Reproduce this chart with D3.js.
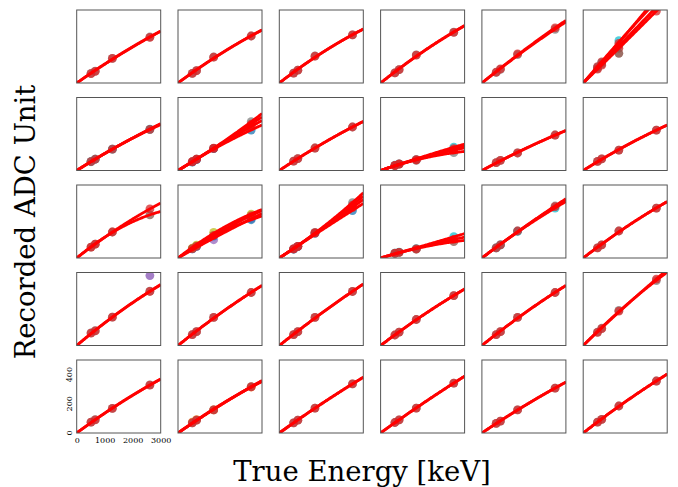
<!DOCTYPE html>
<html>
<head>
<meta charset="utf-8">
<script src="https://cdn.jsdelivr.net/npm/d3@7"></script>
<style>
  html, body { margin: 0; padding: 0; background: #fff; }
  svg { display: block; }
</style>
</head>
<body>
<svg id="chart" width="678" height="487"></svg>
<script>
// ---------------- DATA ----------------
const energies = [511, 662, 1274, 2614];           // calibration peaks (keV)
const palette = ["#1f77b4","#ff7f0e","#2ca02c","#d62728","#9467bd",
                 "#8c564b","#e377c2","#7f7f7f","#bcbd22","#17becf"];
const xTicks = [0, 1000, 2000, 3000];
const yTicks = [0, 200, 400];
const xLabel = "True Energy [keV]";
const yLabel = "Recorded ADC Unit";

// each panel: list of runs [colorIndex, adc@511, adc@662, adc@1274, adc@2614]
const panelRuns = [
  // row 1
  [[7, 66, 82, 169, 315], [3, 64, 80, 168, 313]],
  [[7, 66, 85, 178, 322], [3, 66, 84, 177, 322]],
  [[7, 68, 88, 185, 329], [3, 68, 88, 184, 329]],
  [[7, 70, 92, 192, 349], [3, 70, 91, 191, 347]],
  [[7, 72, 94, 195, 368], [3, 74, 96, 199, 377]],
  [[9, 108, 140, 290, 560], [7, 100, 130, 255, 520], [3, 95, 122, 238, 493], [3, 112, 145, 272, 585]],
  // row 2
  [[7, 62, 78, 147, 280], [9, 60, 77, 146, 284], [3, 61, 77, 146, 282]],
  [[7, 60, 77, 152, 334], [0, 58, 75, 150, 277], [3, 60, 77, 152, 300], [3, 61, 78, 153, 318]],
  [[7, 64, 82, 154, 298], [3, 64, 82, 154, 298]],
  [[9, 36, 46, 75, 160], [7, 33, 43, 70, 122], [3, 34, 44, 72, 140], [3, 35, 45, 74, 150]],
  [[7, 54, 70, 120, 243], [3, 54, 70, 120, 243]],
  [[7, 62, 80, 140, 277], [3, 62, 80, 140, 277]],
  // row 3
  [[5, 75, 95, 178, 295], [3, 75, 95, 178, 336]],
  [[4, 62, 80, 125, 270], [0, 62, 80, 150, 262], [8, 68, 88, 176, 301], [3, 64, 82, 155, 290]],
  [[7, 62, 80, 176, 379], [0, 60, 78, 168, 325], [3, 62, 80, 170, 345], [3, 62, 80, 174, 362]],
  [[9, 33, 40, 64, 146], [5, 32, 39, 60, 112], [3, 33, 39, 62, 128]],
  [[7, 70, 90, 185, 356], [9, 70, 90, 183, 342], [3, 70, 90, 185, 352]],
  [[7, 70, 90, 185, 342], [3, 70, 90, 185, 342]],
  // row 4
  [[7, 86, 101, 194, 372], [3, 85, 100, 194, 370]],
  [[7, 75, 95, 192, 363], [3, 75, 95, 192, 363]],
  [[7, 75, 95, 192, 370], [3, 75, 95, 192, 370]],
  [[7, 72, 92, 178, 342], [3, 72, 92, 178, 342]],
  [[7, 75, 95, 192, 363], [3, 75, 95, 192, 363]],
  [[7, 92, 118, 240, 445], [3, 90, 115, 235, 455]],
  // row 5
  [[7, 75, 91, 169, 329], [3, 74, 90, 168, 328]],
  [[1, 75, 92, 158, 315], [7, 70, 88, 158, 318], [3, 70, 88, 158, 316]],
  [[7, 70, 88, 171, 336], [3, 70, 88, 171, 336]],
  [[7, 72, 90, 171, 342], [3, 72, 90, 171, 342]],
  [[7, 66, 82, 158, 308], [3, 66, 82, 158, 308]],
  [[7, 74, 94, 185, 356], [3, 74, 94, 185, 356]]
];

// unfitted stray points: [panelIndex, colorIndex, energy, adc]
const outliers = [
  [5, 5, 1274, 203],
  [18, 4, 2614, 479]
];

// ---------------- LAYOUT ----------------
const nRows = 5, nCols = 6;
const left0 = 76.7, colStep = 101.3, pw = 84;
const top0 = 10, rowStep = 87.5, ph = 73;

const x = d3.scaleLinear().domain([0, 3000]).range([0, pw]);
const y = d3.scaleLinear().domain([0, 500]).range([ph, 0]);

function fitQuadOrigin(vals) {
  // least squares y = a*e + b*e^2, e in thousands keV
  let s2 = 0, s3 = 0, s4 = 0, sy1 = 0, sy2 = 0;
  energies.forEach((E, i) => {
    const e = E / 1000, v = vals[i];
    s2 += e * e; s3 += e * e * e; s4 += e * e * e * e;
    sy1 += e * v; sy2 += e * e * v;
  });
  const det = s2 * s4 - s3 * s3;
  const a = (sy1 * s4 - s3 * sy2) / det;
  const b = (s2 * sy2 - s3 * sy1) / det;
  return E => a * (E / 1000) + b * (E / 1000) * (E / 1000);
}

const svg = d3.select("#chart");
const defs = svg.append("defs");
defs.append("clipPath").attr("id", "pclip")
  .append("rect").attr("x", 0).attr("y", 0).attr("width", pw).attr("height", ph);

const sampleE = d3.range(0, 3001, 25);
const lineGen = d3.line().x(d => x(d[0])).y(d => y(d[1]));

panelRuns.forEach((runs, idx) => {
  const r = Math.floor(idx / nCols), c = idx % nCols;
  const g = svg.append("g")
    .attr("transform", `translate(${left0 + c * colStep},${top0 + r * rowStep})`);
  const inner = g.append("g").attr("clip-path", "url(#pclip)");

  // points
  runs.forEach(run => {
    const col = palette[run[0]];
    inner.selectAll(null).data(energies.map((E, i) => [E, run[i + 1]]))
      .enter().append("circle")
      .attr("cx", d => x(d[0])).attr("cy", d => y(d[1]))
      .attr("r", 4.4).attr("fill", col).attr("fill-opacity", 0.75);
  });
  outliers.filter(o => o[0] === idx).forEach(o => {
    inner.append("circle").attr("cx", x(o[2])).attr("cy", y(o[3]))
      .attr("r", 4.4).attr("fill", palette[o[1]]).attr("fill-opacity", 0.85);
  });
  // fitted lines
  runs.forEach(run => {
    const f = fitQuadOrigin(run.slice(1));
    inner.append("path")
      .attr("d", lineGen(sampleE.map(E => [E, f(E)])))
      .attr("fill", "none").attr("stroke", "#ff0000")
      .attr("stroke-width", 2.8).attr("stroke-linecap", "butt");
  });

  g.append("rect").attr("x", 0).attr("y", 0).attr("width", pw).attr("height", ph)
    .attr("fill", "none").attr("stroke", "#555").attr("stroke-width", 1);

  // axes on bottom-left panel only
  if (r === nRows - 1 && c === 0) {
    const xa = g.append("g").attr("transform", `translate(0,${ph})`)
      .call(d3.axisBottom(x).tickValues(xTicks).tickFormat(d3.format("d"))
        .tickSize(0).tickPadding(4));
    xa.select(".domain").remove();
    xa.selectAll("text").attr("font-family", "DejaVu Serif").attr("font-size", 8).attr("fill", "#000");

    const ya = g.append("g");
    ya.selectAll("text").data(yTicks).enter().append("text")
      .attr("transform", d => `translate(-4.5,${y(d)}) rotate(-90)`)
      .attr("text-anchor", "middle")
      .attr("font-family", "DejaVu Serif").attr("font-size", 8).attr("fill", "#000")
      .text(d => d);
  }
});

// axis titles
svg.append("text")
  .attr("x", 362).attr("y", 481)
  .attr("text-anchor", "middle")
  .attr("font-family", "DejaVu Serif").attr("font-size", 27.5)
  .attr("fill", "#000")
  .text(xLabel);

svg.append("text")
  .attr("transform", "translate(35,222) rotate(-90)")
  .attr("text-anchor", "middle")
  .attr("font-family", "DejaVu Serif").attr("font-size", 27.5)
  .attr("fill", "#000")
  .text(yLabel);
</script>
</body>
</html>
